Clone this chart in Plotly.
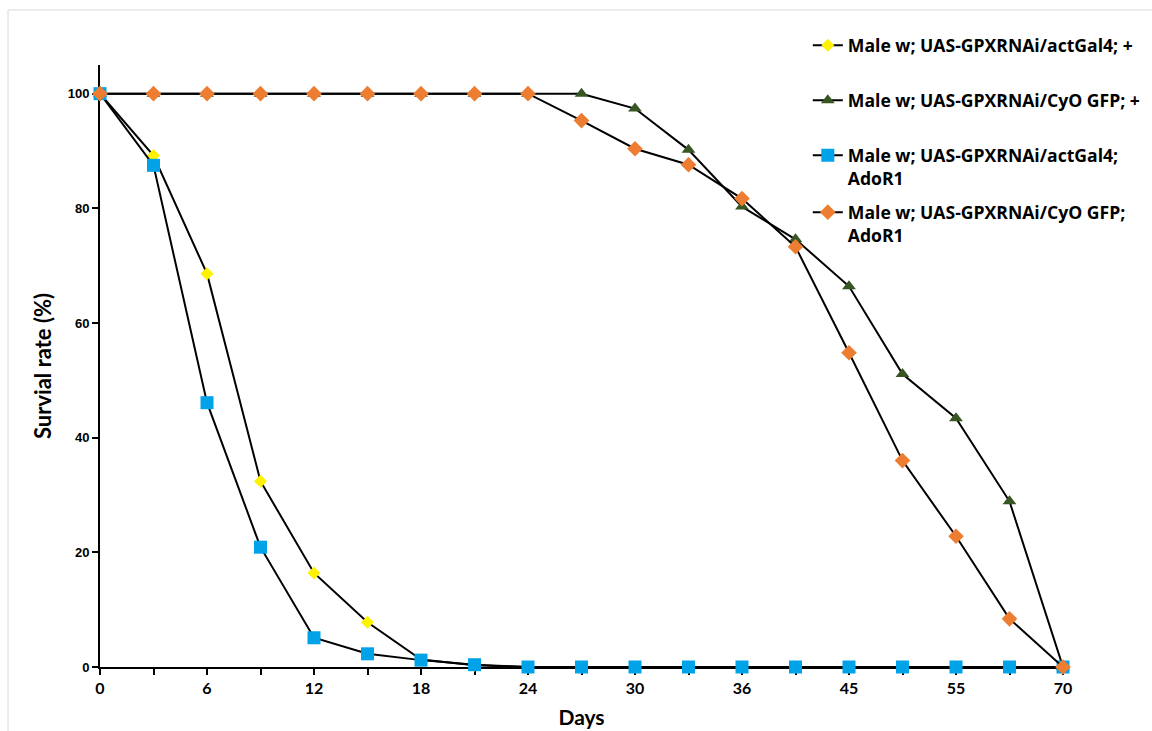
import plotly.graph_objects as go

days = ["0", "3", "6", "9", "12", "15", "18", "21", "24", "27", "30", "33",
        "36", "40", "45", "50", "55", "60", "70"]
shown_ticks = ["0", "6", "12", "18", "24", "30", "36", "45", "55", "70"]

yellow_vals = [100, 89.2, 68.6, 32.4, 16.4, 7.8, 1.3, 0.3, 0, 0, 0, 0, 0, 0, 0, 0, 0, 0, 0]
green_vals = [100, 100, 100, 100, 100, 100, 100, 100, 100, 100, 97.4, 90.2, 80.3, 74.6, 66.4, 51.1, 43.4, 28.9, 0]
blue_vals = [100, 87.5, 46.1, 20.9, 5.1, 2.3, 1.2, 0.4, 0, 0, 0, 0, 0, 0, 0, 0, 0, 0, 0]
orange_vals = [100, 100, 100, 100, 100, 100, 100, 100, 100, 95.3, 90.4, 87.6, 81.7, 73.3, 54.8, 36.0, 22.8, 8.4, 0]

names = [
    "Male w; UAS-GPXRNAi/actGal4; +",
    "Male w; UAS-GPXRNAi/CyO GFP; +",
    "Male w; UAS-GPXRNAi/actGal4;<br>AdoR1",
    "Male w; UAS-GPXRNAi/CyO GFP;<br>AdoR1",
]

series = [
    (yellow_vals, "#FFF200", "diamond", 10),
    (green_vals, "#375623", "triangle-up", 12),
    (blue_vals, "#00A2E8", "square", 13),
    (orange_vals, "#ED7D31", "diamond", 12),
]

fig = go.Figure()
legends = ["legend", "legend2", "legend3", "legend4"]
for (vals, col, sym, size), name, lg in zip(series, names, legends):
    fig.add_trace(go.Scatter(
        x=days, y=vals, mode="lines+markers", name="<b>" + name + "</b>",
        line=dict(color="black", width=2),
        marker=dict(color=col, symbol=sym, size=size, line=dict(width=0)),
        legend=lg, cliponaxis=False,
    ))

ticktext = [d if d in shown_ticks else "" for d in days]

legend_common = dict(
    x=0.735, xanchor="left", yanchor="top", valign="top",
    font=dict(family="Open Sans", size=17.6, color="black"),
    bgcolor="rgba(0,0,0,0)", itemwidth=30,
)
ly = [1.0628, 0.9714, 0.880, 0.7854]

fig.update_layout(
    width=1152, height=731,
    margin=dict(l=100, r=89, t=65, b=64, autoexpand=False),
    plot_bgcolor="white", paper_bgcolor="white",
    showlegend=True,
    legend=dict(y=ly[0], **legend_common),
    legend2=dict(y=ly[1], **legend_common),
    legend3=dict(y=ly[2], **legend_common),
    legend4=dict(y=ly[3], **legend_common),
    xaxis=dict(
        type="category", range=[0, 18], automargin=False, layer="below traces",
        tickmode="array", tickvals=days, ticktext=ticktext,
        ticks="outside", ticklen=6, tickwidth=2, tickcolor="black",
        showline=True, linecolor="black", linewidth=2,
        showgrid=False, zeroline=False,
        tickfont=dict(family="Lato", size=16, color="black", weight="bold"),
        title=dict(text="<b>Days</b>", font=dict(family="Lato", size=21, color="black"), standoff=14),
    ),
    yaxis=dict(
        range=[0, 105], automargin=False, layer="below traces",
        tickmode="array", tickvals=[0, 20, 40, 60, 80, 100],
        ticks="outside", ticklen=6, tickwidth=2, tickcolor="black",
        showline=True, linecolor="black", linewidth=2,
        showgrid=False, zeroline=False,
        tickfont=dict(family="Liberation Sans", size=13, color="black", weight="bold"),
        title=dict(text="<b>Survial rate (%)</b>", font=dict(family="Lato", size=22, color="black"), standoff=10),
    ),
    shapes=[dict(type="rect", xref="paper", yref="paper",
                 x0=-0.0955, x1=1.2, y0=-0.2, y1=1.0914,
                 line=dict(color="#d9d9d9", width=1), fillcolor="rgba(0,0,0,0)", layer="below")],
)

fig.write_html("out.html")
